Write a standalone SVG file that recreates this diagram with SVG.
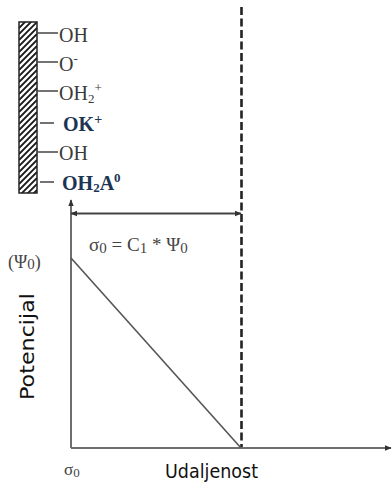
<svg xmlns="http://www.w3.org/2000/svg" width="392" height="490" viewBox="0 0 392 490">
<style>
.lbl{font-family:"Liberation Serif",serif;font-size:20px;fill:#3a3a3a}
.blbl{font-family:"Liberation Serif",serif;font-size:20px;font-weight:bold;fill:#1c3553}
.tick{stroke:#444;stroke-width:1.5}
.axis{stroke:#6e6e6e;stroke-width:2;fill:none}
.ser{font-family:"Liberation Serif",serif;fill:#444}
.sans{font-family:"DejaVu Sans",sans-serif;fill:#111}
.h{stroke:#1a1a1a;stroke-width:1.8}
</style>
<defs>
<clipPath id="wallclip"><rect x="19" y="22" width="18" height="171"/></clipPath>
<marker id="ah" viewBox="0 0 10 10" refX="9" refY="5" markerWidth="7" markerHeight="7" orient="auto-start-reverse" markerUnits="userSpaceOnUse">
<path d="M0,1 L10,5 L0,9 z" fill="#333"/>
</marker>
</defs>
<g id="wall">
<rect x="19" y="22" width="18" height="171" fill="#fff"/>
<g clip-path="url(#wallclip)">
<path class="h" d="M19,28 l18,-18 M19,34 l18,-18 M19,40 l18,-18 M19,46 l18,-18 M19,52 l18,-18 M19,58 l18,-18 M19,64 l18,-18 M19,70 l18,-18 M19,76 l18,-18 M19,82 l18,-18 M19,88 l18,-18 M19,94 l18,-18 M19,100 l18,-18 M19,106 l18,-18 M19,112 l18,-18 M19,118 l18,-18 M19,124 l18,-18 M19,130 l18,-18 M19,136 l18,-18 M19,142 l18,-18 M19,148 l18,-18 M19,154 l18,-18 M19,160 l18,-18 M19,166 l18,-18 M19,172 l18,-18 M19,178 l18,-18 M19,184 l18,-18 M19,190 l18,-18 M19,196 l18,-18 M19,202 l18,-18 M19,208 l18,-18 M19,214 l18,-18"/>
</g>
<rect x="19" y="22" width="18" height="171" fill="none" stroke="#222" stroke-width="1.5"/>
<line class="tick" x1="37" y1="33" x2="58" y2="33"/>
<line class="tick" x1="37" y1="62" x2="58" y2="62"/>
<line class="tick" x1="37" y1="91" x2="58" y2="91"/>
<line class="tick" x1="40" y1="123" x2="54" y2="123"/>
<line class="tick" x1="37" y1="152" x2="58" y2="152"/>
<line class="tick" x1="40" y1="182" x2="54" y2="182"/>
</g>
<g id="labels">
<text class="lbl" x="59" y="42">OH</text>
<text class="lbl" x="59" y="71">O<tspan font-size="13" dy="-8">-</tspan></text>
<text class="lbl" x="59" y="100">OH<tspan font-size="13" dy="3">2</tspan><tspan font-size="13" dy="-11">+</tspan></text>
<text class="blbl" x="63" y="131">OK<tspan font-size="14" dy="-7">+</tspan></text>
<text class="lbl" x="59" y="160">OH</text>
<text class="blbl" x="62" y="190">OH<tspan font-size="13" dy="2">2</tspan><tspan dy="-2">A</tspan><tspan font-size="13" dy="-8">0</tspan></text>
</g>
<g id="connectors">
<line x1="241.5" y1="7" x2="241.5" y2="448" stroke="#222" stroke-width="2.6" stroke-dasharray="8,3.5"/>
<line class="axis" x1="71" y1="448" x2="71" y2="200" marker-end="url(#ah)"/>
<line class="axis" x1="71" y1="448" x2="391" y2="448" marker-end="url(#ah)"/>
<line x1="71" y1="213.5" x2="241" y2="213.5" stroke="#444" stroke-width="1.8" marker-start="url(#ah)" marker-end="url(#ah)"/>
<line x1="71" y1="258" x2="241" y2="448" stroke="#555" stroke-width="1.6"/>
</g>
<g id="texts">
<text class="ser" x="8" y="268" font-size="18">(Ψ<tspan font-size="15" dy="1">0</tspan><tspan dy="-1">)</tspan></text>
<text class="ser" x="89" y="251" font-size="19">σ<tspan font-size="15" dy="2">0</tspan><tspan dy="-2"> = C</tspan><tspan font-size="15" dy="2">1</tspan><tspan dy="-2"> * Ψ</tspan><tspan font-size="15" dy="2">0</tspan></text>
<text class="ser" x="64" y="475" font-size="17">σ<tspan font-size="13" dy="2">0</tspan></text>
<text class="sans" x="165" y="478" font-size="19" textLength="93" lengthAdjust="spacingAndGlyphs">Udaljenost</text>
<text class="sans" transform="translate(34,400) rotate(-90)" font-size="19" textLength="107" lengthAdjust="spacingAndGlyphs">Potencijal</text>
</g>
</svg>
